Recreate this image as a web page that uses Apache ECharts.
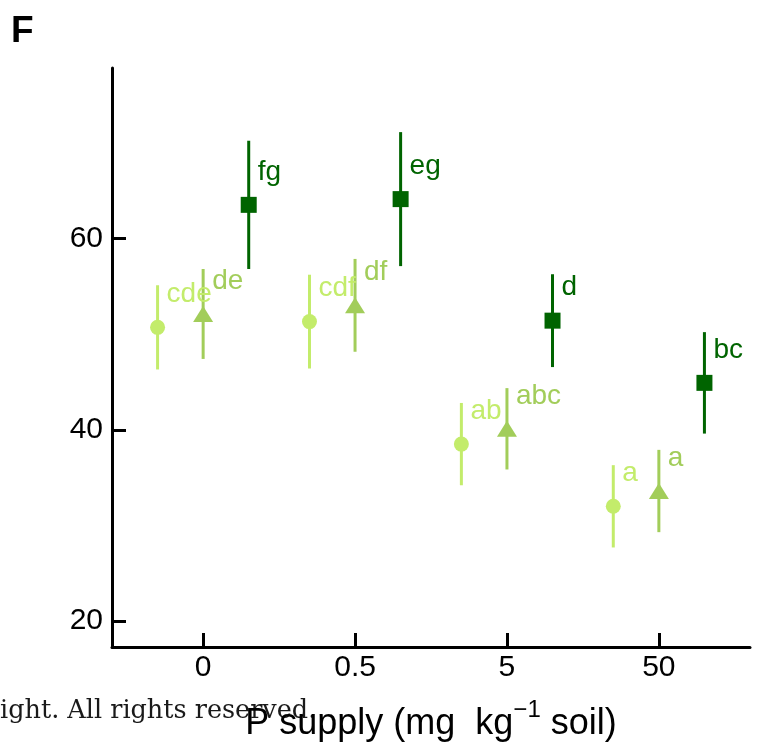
<!DOCTYPE html>
<html>
<head>
<meta charset="utf-8">
<title>P supply</title>
<script src="https://cdn.jsdelivr.net/npm/echarts@6/dist/echarts.min.js"></script>
<style>
  html, body { margin: 0; padding: 0; background: #fff; }
  #container { width: 758px; height: 743px; }
</style>
</head>
<body>
<div id="container"></div>
<script>
// P supply levels on the x axis
const pSupply = ['0', '0.5', '5', '50'];
const yTicks = [20, 40, 60];

// light green circles
const circleMean = [50.7, 51.3, 38.5, 32.0];
const circleSd = [4.4, 4.9, 4.3, 4.3];
const circleLetters = ['cde', 'cdf', 'ab', 'a'];

// mid green triangles
const triMean = [52.1, 53.0, 40.1, 33.6];
const triSd = [4.7, 4.85, 4.25, 4.3];
const triLetters = ['de', 'df', 'abc', 'a'];

// dark green squares
const squareMean = [63.5, 64.1, 51.4, 44.9];
const squareSd = [6.7, 7.0, 4.85, 5.3];
const squareLetters = ['fg', 'eg', 'd', 'bc'];

(function() {
  const FONT = '"Liberation Sans", Arial, sans-serif';

  const groups = [
    { name: 'circle', mean: circleMean, sd: circleSd, letters: circleLetters,
      shift: -0.3, symbol: 'circle', size: 15, color: '#c3ec6b' },
    { name: 'triangle', mean: triMean, sd: triSd, letters: triLetters,
      shift: 0, symbol: 'triangle', size: [20, 16], color: '#a2cd5a' },
    { name: 'square', mean: squareMean, sd: squareSd, letters: squareLetters,
      shift: 0.3, symbol: 'rect', size: 16, color: '#006400' }
  ];

  const series = [];
  groups.forEach(g => {
    // error bars (mean ± sd)
    series.push({
      type: 'custom',
      name: g.name + '-err',
      clip: false,
      z: 2,
      data: g.mean.map((m, i) => [i + g.shift, m - g.sd[i], m + g.sd[i]]),
      encode: { x: 0, y: [1, 2] },
      renderItem(params, api) {
        const x = api.value(0);
        const lo = api.coord([x, api.value(1)]);
        const hi = api.coord([x, api.value(2)]);
        return {
          type: 'line',
          shape: { x1: lo[0], y1: lo[1], x2: hi[0], y2: hi[1] },
          style: { stroke: g.color, lineWidth: 3 }
        };
      },
      silent: true
    });
    // mean markers with letter labels
    series.push({
      type: 'scatter',
      name: g.name,
      z: 3,
      symbol: g.symbol,
      symbolSize: g.size,
      itemStyle: { color: g.color, opacity: 1 },
      data: g.mean.map((m, i) => [i + g.shift, m]),
      label: {
        show: true,
        position: 'inside',
        align: 'left',
        verticalAlign: 'middle',
        offset: [9, -33],
        formatter: p => g.letters[p.dataIndex],
        color: g.color,
        fontSize: 28,
        fontFamily: FONT
      },
      silent: true
    });
  });

  const option = {
    backgroundColor: '#fff',
    animation: false,
    grid: { left: 112, right: 8, top: 68, bottom: 96, containLabel: false, outerBoundsMode: 'none' },
    xAxis: {
      type: 'value',
      min: -0.6,
      max: 3.6,
      name: '{t|P supply (mg  kg}{s|−1}{t| soil)}',
      nameLocation: 'middle',
      nameGap: 51,
      nameTextStyle: {
        rich: {
          t: { fontSize: 36, fontFamily: FONT, color: '#000', verticalAlign: 'bottom', lineHeight: 44 },
          s: { fontSize: 24, fontFamily: FONT, color: '#000', verticalAlign: 'top', lineHeight: 44 }
        }
      },
      axisLine: { onZero: false, lineStyle: { color: '#000', width: 3 } },
      axisTick: {
        inside: true, length: 14,
        customValues: pSupply.map((_, i) => i),
        lineStyle: { color: '#000', width: 3 }
      },
      axisLabel: {
        customValues: pSupply.map((_, i) => i),
        formatter: v => pSupply[Math.round(v)],
        color: '#000', fontSize: 30, fontFamily: FONT, margin: 6
      },
      splitLine: { show: false }
    },
    yAxis: {
      type: 'value',
      min: 17.3,
      max: 77.8,
      axisLine: { onZero: false, lineStyle: { color: '#000', width: 3 } },
      axisTick: {
        inside: true, length: 14,
        customValues: yTicks,
        lineStyle: { color: '#000', width: 3 }
      },
      axisLabel: {
        customValues: yTicks,
        color: '#000', fontSize: 30, fontFamily: FONT, margin: 9
      },
      splitLine: { show: false }
    },
    graphic: [
      {
        type: 'text', x: 11, y: 32, z: 10,
        style: { text: 'F', font: 'bold 37px "Liberation Sans", Arial, sans-serif',
          fill: '#000', verticalAlign: 'middle' }
      },
      {
        type: 'text', x: 0, y: 711, z: 0,
        style: { text: 'ight. All rights reserved.', font: '25.5px "DejaVu Serif", serif',
          fill: '#1a1a1a', verticalAlign: 'middle' }
      }
    ],
    series: series
  };

  const chart = echarts.init(document.getElementById('container'), null, { renderer: 'canvas' });
  chart.setOption(option);
  window.addEventListener('resize', () => chart.resize());
})();
</script>
</body>
</html>
